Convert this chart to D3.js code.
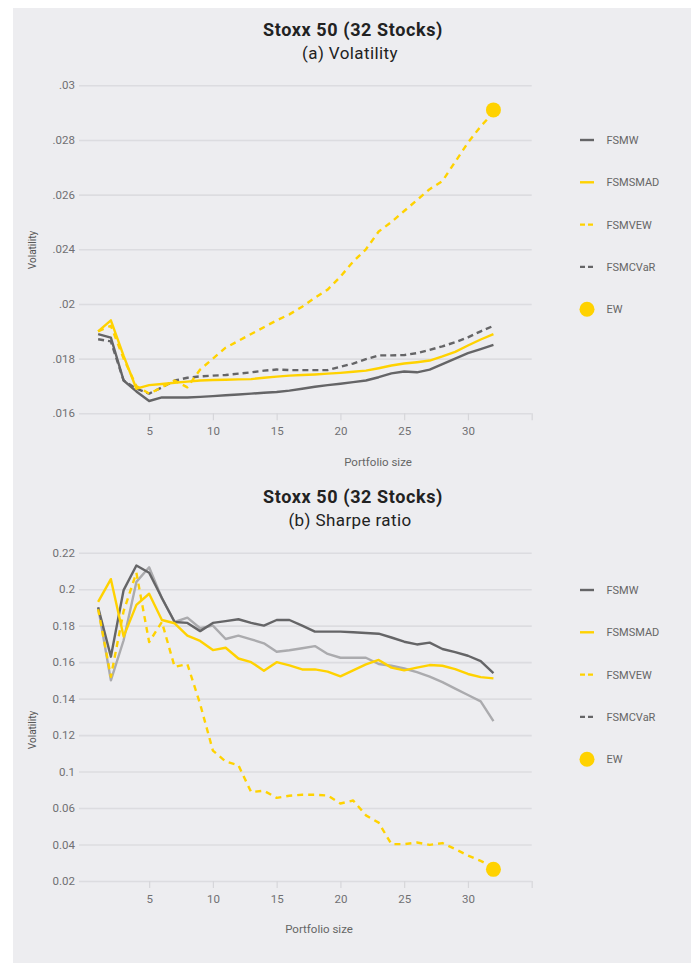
<!DOCTYPE html>
<html>
<head>
<meta charset="utf-8">
<script src="https://cdn.jsdelivr.net/npm/d3@7"></script>
<style>
  body { margin: 0; background: #fff; }
  text { font-family: Roboto, "Open Sans", sans-serif; }
</style>
</head>
<body>
<svg id="chart" width="699" height="963"></svg>
<script>
// portfolio sizes (x categories)
const sizes = [1,2,3,4,5,6,7,8,9,10,11,12,13,14,15,16,17,18,19,20,21,22,23,24,25,26,27,28,29,30,31,32];
const xTicks = [5, 10, 15, 20, 25, 30];

// (a) Volatility -- tick values as printed on the axis
const volTicks = [0.016, 0.018, 0.02, 0.024, 0.026, 0.028, 0.03];
const volTickLabels = [".016", ".018", ".02", ".024", ".026", ".028", ".03"];

const volFSMW = [.0189,.01877,.0172,.0168,.01645,.01658,.01658,.01658,.0166,.01663,.01666,.01669,.01672,.01675,.01678,.01683,
  .0169,.01697,.01703,.01708,.01714,.0172,.01732,.01746,.01753,.0175,.0176,.0178,.018,.0182,.01835,.0185];
const volFSMSMAD = [.0190,.0194,.0181,.0169,.01703,.01707,.01712,.01716,.0172,.01722,.01723,.01724,.01725,.0173,.01734,.01738,
  .0174,.01742,.01745,.01748,.01752,.01756,.01765,.01775,.01782,.01787,.01793,.01808,.01825,.01848,.0187,.0189];
const volFSMVEW = [.0190,.0192,.0180,.0170,.01672,.01695,.0172,.01695,.0176,.0180,.0184,.01865,.0189,.01915,.0194,.01962,
  .0199,.02045,.02105,.0220,.0231,.0240,.02465,.0250,.0254,.0258,.0262,.0265,.0272,.0279,.0285,.0290];
const volFSMCVaR = [.01871,.01863,.0172,.0169,.01672,.01695,.0172,.0173,.01735,.01738,.0174,.01745,.0175,.01756,.0176,.01758,
  .01758,.01758,.01758,.0177,.01782,.01798,.01812,.01812,.01813,.0182,.01832,.01845,.0186,.01878,.019,.0192];
const volEW = [{size: 32, value: .0291}];

// (b) Sharpe ratio
const shTicks = [0.02, 0.04, 0.06, 0.1, 0.12, 0.14, 0.16, 0.18, 0.2, 0.22];
const shTickLabels = ["0.02", "0.04", "0.06", "0.1", "0.12", "0.14", "0.16", "0.18", "0.2", "0.22"];

const shFSMW = [.190,.163,.1995,.213,.209,.1952,.182,.1815,.177,.1815,.1825,.1835,.1815,.180,.1831,.1831,
  .180,.1767,.1767,.1767,.1764,.176,.1756,.1735,.1712,.1697,.1707,.1672,.1655,.1635,.1605,.154];
const shFSMSMAD = [.193,.2055,.174,.1914,.1975,.1831,.1813,.1745,.1716,.1666,.1679,.162,.160,.1553,.160,.1582,
  .156,.156,.1548,.1522,.1555,.1588,.1612,.157,.1555,.157,.1584,.158,.1562,.1535,.1518,.1511];
const shFSMVEW = [.189,.152,.188,.209,.171,.182,.1574,.1589,.137,.1115,.1055,.1035,.0775,.079,.0712,.0735,
  .0745,.0745,.0738,.065,.0683,.056,.052,.0402,.0402,.0411,.0398,.0408,.0375,.034,.031,.0275];
const shFSMCVaR = [.190,.150,.172,.204,.212,.195,.182,.1844,.1786,.180,.1727,.1745,.1725,.1703,.1657,.1665,
  .1676,.1688,.1645,.1624,.1624,.1624,.159,.158,.1565,.1545,.152,.149,.1455,.142,.1385,.1276];
const shEW = [{size: 32, value: .0264}];

const legendNames = ["FSMW", "FSMSMAD", "FSMVEW", "FSMCVaR", "EW"];

const YELLOW = "#ffd200", DARK = "#656567", LIGHT = "#ababae";

const svg = d3.select("#chart");

// grey panel
svg.append("rect")
  .attr("x", 13).attr("y", 8)
  .attr("width", 678).attr("height", 960)
  .attr("fill", "#ededf0");

const x = d3.scaleLinear().domain([-0.5, 35]).range([79, 531.7]);

function drawPanel(cfg) {
  const g = svg.append("g");
  const n = cfg.ticks.length;
  // equal spacing between printed tick values (the axis is not linear)
  const y = d3.scaleLinear()
    .domain(cfg.ticks)
    .range(cfg.ticks.map((d, i) => cfg.bottom - i * (cfg.bottom - cfg.top) / (n - 1)));

  // titles
  g.append("text")
    .attr("x", 353).attr("y", cfg.titleY)
    .attr("text-anchor", "middle")
    .attr("font-size", 18).attr("font-weight", "bold")
    .attr("letter-spacing", 0.6)
    .attr("fill", "#222")
    .text("Stoxx 50 (32 Stocks)");
  g.append("text")
    .attr("x", 350).attr("y", cfg.titleY + 23)
    .attr("text-anchor", "middle")
    .attr("font-size", 17)
    .attr("letter-spacing", 0.4)
    .attr("fill", "#222")
    .text(cfg.subtitle);

  // y grid + labels
  const yAxis = g.append("g")
    .attr("transform", "translate(79,0)")
    .call(d3.axisLeft(y)
      .tickValues(cfg.ticks)
      .tickFormat((d, i) => cfg.labels[i])
      .tickSize(-(531.7 - 79))
      .tickPadding(4));
  yAxis.select(".domain").remove();
  yAxis.selectAll(".tick line").attr("stroke", "#dcdce0").attr("stroke-width", 1.6);
  yAxis.selectAll(".tick text").attr("fill", "#707073").attr("font-size", 11.5);

  // x axis
  const xAxis = g.append("g")
    .attr("transform", "translate(0," + cfg.bottom + ")")
    .call(d3.axisBottom(x).tickValues(xTicks.concat([35])).tickFormat(d => d === 35 ? "" : d).tickSize(7).tickPadding(7));
  xAxis.select(".domain").remove();
  xAxis.selectAll(".tick line").attr("stroke", "#d6d6da").attr("stroke-width", 1.2);
  xAxis.selectAll(".tick text").attr("fill", "#707073").attr("font-size", 11.5);

  // axis titles
  g.append("text")
    .attr("transform", "translate(36," + cfg.yTitleY + ") rotate(-90)")
    .attr("text-anchor", "middle")
    .attr("font-size", 10)
    .attr("fill", "#555")
    .text("Volatility");
  g.append("text")
    .attr("x", cfg.xTitleX).attr("y", cfg.xTitleY)
    .attr("text-anchor", "middle")
    .attr("font-size", 11.5)
    .attr("fill", "#666")
    .text("Portfolio size");

  // lines
  const line = d3.line().x((d, i) => x(sizes[i])).y(d => y(d));
  cfg.series.forEach(s => {
    g.append("path")
      .datum(s.values)
      .attr("fill", "none")
      .attr("stroke", s.color)
      .attr("stroke-width", 2.4)
      .attr("stroke-dasharray", s.dash || null)
      .attr("stroke-linejoin", "round")
      .attr("d", line);
  });

  g.selectAll(".ew")
    .data(cfg.ew)
    .enter().append("circle")
    .attr("cx", d => x(d.size))
    .attr("cy", d => y(d.value))
    .attr("r", 7.5)
    .attr("fill", YELLOW);

  // legend
  const lg = g.append("g").attr("transform", "translate(580," + cfg.legendY + ")");
  const legendStyles = [
    {color: DARK}, {color: YELLOW}, {color: YELLOW, dash: "5,3"}, {color: DARK, dash: "5,3"}, {color: YELLOW, dot: true}
  ];
  legendNames.forEach((name, i) => {
    const item = lg.append("g").attr("transform", "translate(0," + (i * 42.3) + ")");
    const st = legendStyles[i];
    if (st.dot) {
      item.append("circle").attr("cx", 7).attr("cy", 0).attr("r", 7.5).attr("fill", st.color);
    } else {
      item.append("line")
        .attr("x1", 0).attr("x2", 14).attr("y1", 0).attr("y2", 0)
        .attr("stroke", st.color).attr("stroke-width", 2.4)
        .attr("stroke-dasharray", st.dash || null);
    }
    item.append("text")
      .attr("x", 26.5).attr("y", 4)
      .attr("font-size", 11)
      .attr("fill", "#666")
      .text(name);
  });
}

drawPanel({
  titleY: 36, subtitle: "(a) Volatility",
  ticks: volTicks, labels: volTickLabels,
  top: 85.3, bottom: 413.3,
  yTitleY: 250, xTitleX: 378, xTitleY: 466,
  legendY: 140,
  series: [
    {values: volFSMCVaR, color: DARK, dash: "6,4"},
    {values: volFSMW, color: DARK},
    {values: volFSMSMAD, color: YELLOW},
    {values: volFSMVEW, color: YELLOW, dash: "6,5"}
  ],
  ew: volEW
});

drawPanel({
  titleY: 503, subtitle: "(b) Sharpe ratio",
  ticks: shTicks, labels: shTickLabels,
  top: 552.7, bottom: 881,
  yTitleY: 730, xTitleX: 319, xTitleY: 933,
  legendY: 590,
  series: [
    {values: shFSMCVaR, color: LIGHT},
    {values: shFSMW, color: DARK},
    {values: shFSMSMAD, color: YELLOW},
    {values: shFSMVEW, color: YELLOW, dash: "6,5"}
  ],
  ew: shEW
});
</script>
</body>
</html>
